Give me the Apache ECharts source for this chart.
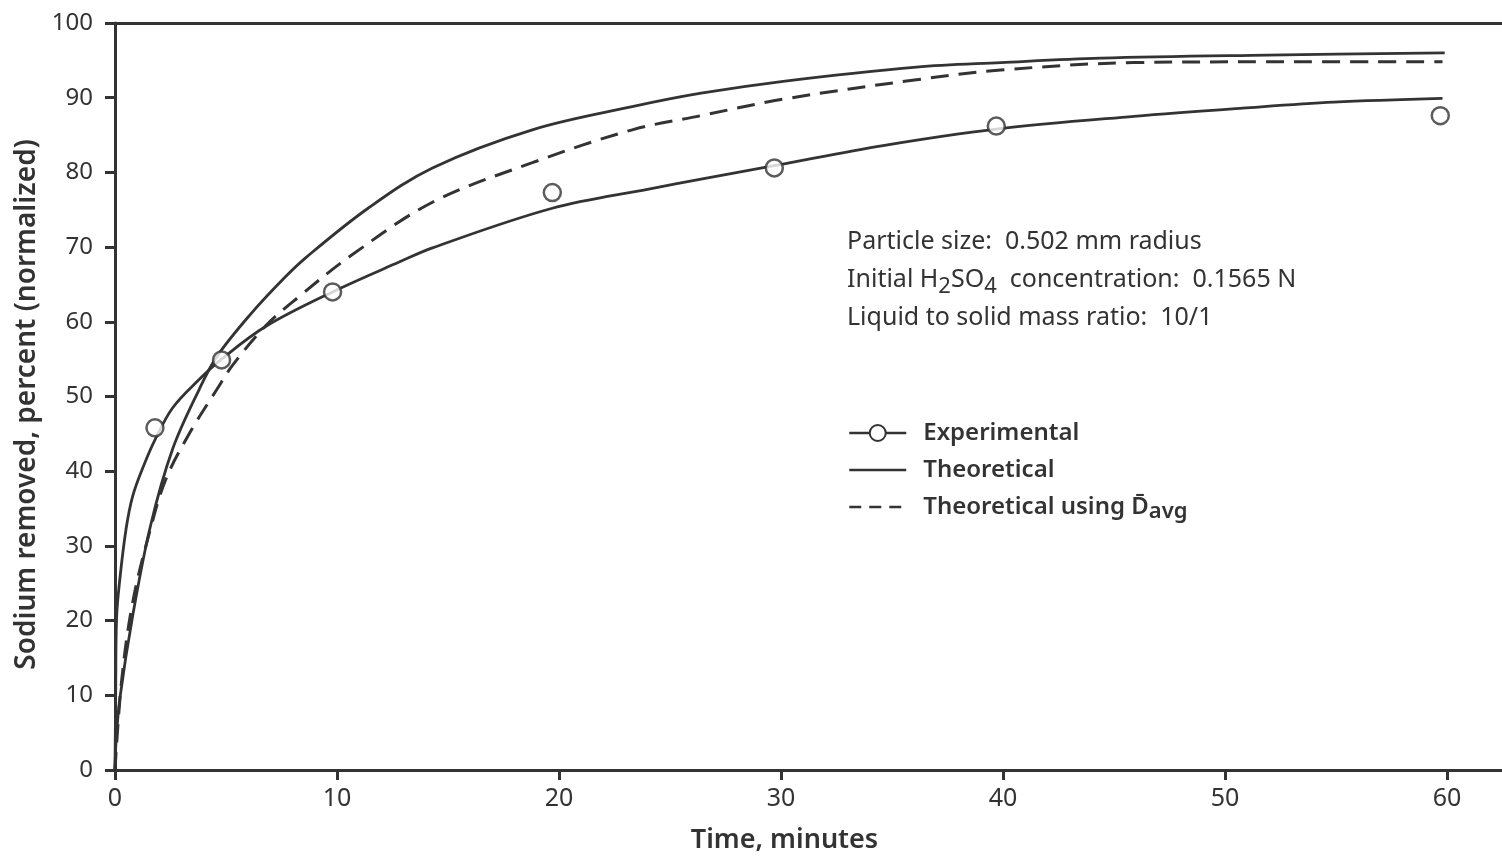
<!DOCTYPE html>
<html>
<head>
<meta charset="utf-8">
<script src="https://cdn.jsdelivr.net/npm/echarts@6/dist/echarts.min.js"></script>
<style>
html,body{margin:0;padding:0;background:#fff;}
#chart{width:1502px;height:859px;}
</style>
</head>
<body>
<div id="chart"></div>
<script>
// ---- data ----
const xTickValues = [0, 10, 20, 30, 40, 50, 60];
const yTickValues = [0, 10, 20, 30, 40, 50, 60, 70, 80, 90, 100];

// Experimental measurements (circles)
const expPointTime  = [1.8, 4.8, 9.8, 19.7, 29.7, 39.7, 59.7];
const expPointValue = [45.8, 54.9, 64.0, 77.3, 80.6, 86.2, 87.6];

// Experimental curve (drawn through the measurements)
const expCurveTime  = [0, 0.03, 0.07, 0.22, 0.5, 0.8, 1.3, 1.8, 2.6, 3.8, 4.8, 6.8, 9.8, 12.8, 14.3, 19.7, 24.1, 26.4, 29.7, 34.6, 39.7, 45.9, 50.8, 54.9, 59.8];
const expCurveValue = [0, 10, 20.3, 25.6, 32.3, 36.7, 40.8, 44.2, 48.5, 52.3, 55.0, 59.4, 64.0, 68.0, 69.9, 75.2, 77.8, 79.1, 80.9, 83.6, 85.8, 87.5, 88.6, 89.4, 89.9];

// Theoretical
const theoTime  = [0, 0.05, 0.22, 0.8, 1.6, 2.6, 3.8, 4.6, 6.1, 7.6, 8.6, 11.4, 14.3, 18.8, 23.3, 26.4, 30.1, 36.1, 39.9, 44.4, 51.9, 59.9];
const theoValue = [0, 4, 9.6, 20.7, 32.7, 43.0, 51.0, 55.4, 61.0, 65.8, 68.6, 75.2, 80.6, 85.7, 88.8, 90.6, 92.2, 94.1, 94.7, 95.3, 95.7, 96.0];

// Theoretical using D-avg
const avgTime  = [0, 0.3, 0.8, 1.6, 2.3, 3.4, 4.6, 5.3, 6.8, 8.3, 10.6, 14.3, 18.8, 23.3, 26.4, 30.1, 36.1, 39.9, 45.9, 51.9, 59.8];
const avgValue = [0, 12, 22.5, 32.3, 39.0, 45.3, 51.0, 54.2, 59.5, 63.4, 68.8, 76.0, 81.3, 85.7, 87.6, 89.8, 92.4, 93.7, 94.7, 94.8, 94.8];

const nameExp = 'Experimental';
const nameTheo = 'Theoretical';
const nameAvg = 'Theoretical using D\u0304avg';

function zip(a, b) { return a.map((v, i) => [v, b[i]]); }

const INK = '#333333';
const FONT = 'Noto Sans';

const chart = echarts.init(document.getElementById('chart'), null, {renderer: 'canvas'});

const option = {
  backgroundColor: '#ffffff',
  animation: false,
  textStyle: {fontFamily: FONT, color: INK},
  grid: {left: 115, right: 0, top: 23, bottom: 87, containLabel: false},
  title: [{
    text: 'Particle size:  0.502 mm radius\nInitial H{s|2}SO{s|4}  concentration:  0.1565 N\nLiquid to solid mass ratio:  10/1',
    left: 847, top: 223,
    padding: 0,
    textStyle: {
      fontFamily: FONT, fontSize: 25, fontWeight: 'normal', color: INK, lineHeight: 38,
      rich: {
        s: {fontFamily: FONT, fontSize: 22, color: INK, padding: [13, 0, 0, 0]}
      }
    }
  }],
  legend: {
    orient: 'vertical',
    left: 848, top: 420,
    padding: 0,
    itemWidth: 57, itemHeight: 20, itemGap: 11,
    selectedMode: false,
    data: [
      {name: nameExp, lineStyle: {width: 2.5, type: 'solid'}},
      {name: nameTheo, itemStyle: {opacity: 0}, lineStyle: {width: 2.5, type: 'solid'}},
      {name: nameAvg, itemStyle: {opacity: 0}, lineStyle: {width: 2.5, type: [12, 8]}}
    ],
    formatter: function (name) {
      if (name === nameAvg) return 'Theoretical using {d|D\u0304}{s|avg}';
      return name;
    },
    textStyle: {
      fontFamily: FONT, fontSize: 24, fontWeight: 600, color: INK, lineHeight: 26,
      padding: [0, 0, 0, 12],
      rich: {
        d: {fontFamily: FONT, fontSize: 24, fontWeight: 600, color: INK},
        s: {fontFamily: FONT, fontSize: 22, fontWeight: 600, color: INK, padding: [10, 0, 0, 0]}
      }
    }
  },
  xAxis: [{
    type: 'value',
    position: 'bottom',
    min: 0, max: 62.48,
    splitLine: {show: false},
    axisLine: {show: true, onZero: false, lineStyle: {color: INK, width: 3}},
    axisTick: {show: true, customValues: xTickValues, length: 10, inside: false, lineStyle: {color: INK, width: 3}},
    axisLabel: {customValues: xTickValues, fontFamily: FONT, fontSize: 25, color: INK, margin: 16},
    name: 'Time, minutes',
    nameLocation: 'middle',
    nameGap: 57,
    nameTextStyle: {fontFamily: FONT, fontSize: 27, fontWeight: 600, color: INK, padding: [0, 48, 0, 0]}
  }, {
    type: 'value',
    position: 'top',
    min: 0, max: 62.48,
    splitLine: {show: false},
    axisLine: {show: true, onZero: false, lineStyle: {color: INK, width: 3}},
    axisTick: {show: false},
    axisLabel: {show: false}
  }],
  yAxis: [{
    type: 'value',
    min: 0, max: 100, interval: 10,
    splitLine: {show: false},
    axisLine: {show: true, onZero: false, lineStyle: {color: INK, width: 3}},
    axisTick: {show: true, customValues: yTickValues, length: 10, inside: false, lineStyle: {color: INK, width: 3}},
    axisLabel: {customValues: yTickValues, fontFamily: FONT, fontSize: 24, color: INK, margin: 22},
    name: 'Sodium removed, percent (normalized)',
    nameLocation: 'middle',
    nameGap: 68,
    nameTextStyle: {fontFamily: FONT, fontSize: 28, fontWeight: 600, color: INK, padding: [0, 16, 0, 0]}
  }],
  series: [
    {
      name: nameExp, type: 'line', xAxisIndex: 0,
      data: zip(expCurveTime, expCurveValue),
      showSymbol: false, symbol: 'circle', symbolSize: 16,
      smooth: 0.35,
      lineStyle: {color: INK, width: 2.8, type: 'solid'},
      itemStyle: {color: '#ffffff', borderColor: INK, borderWidth: 2.5},
      z: 2
    },
    {
      name: nameTheo, type: 'line', xAxisIndex: 0,
      data: zip(theoTime, theoValue),
      showSymbol: false, symbol: 'circle',
      smooth: 0.35,
      lineStyle: {color: INK, width: 2.8, type: 'solid'},
      itemStyle: {color: INK},
      z: 2
    },
    {
      name: nameAvg, type: 'line', xAxisIndex: 0,
      data: zip(avgTime, avgValue),
      showSymbol: false, symbol: 'circle',
      smooth: 0.35,
      lineStyle: {color: INK, width: 3, type: [18, 10]},
      itemStyle: {color: INK},
      z: 2
    },
    {
      name: nameExp, type: 'scatter', xAxisIndex: 0,
      data: zip(expPointTime, expPointValue),
      symbol: 'circle', symbolSize: 17,
      itemStyle: {color: '#ffffff', borderColor: INK, borderWidth: 2.5},
      z: 5
    }
  ]
};

chart.setOption(option);
</script>
</body>
</html>
